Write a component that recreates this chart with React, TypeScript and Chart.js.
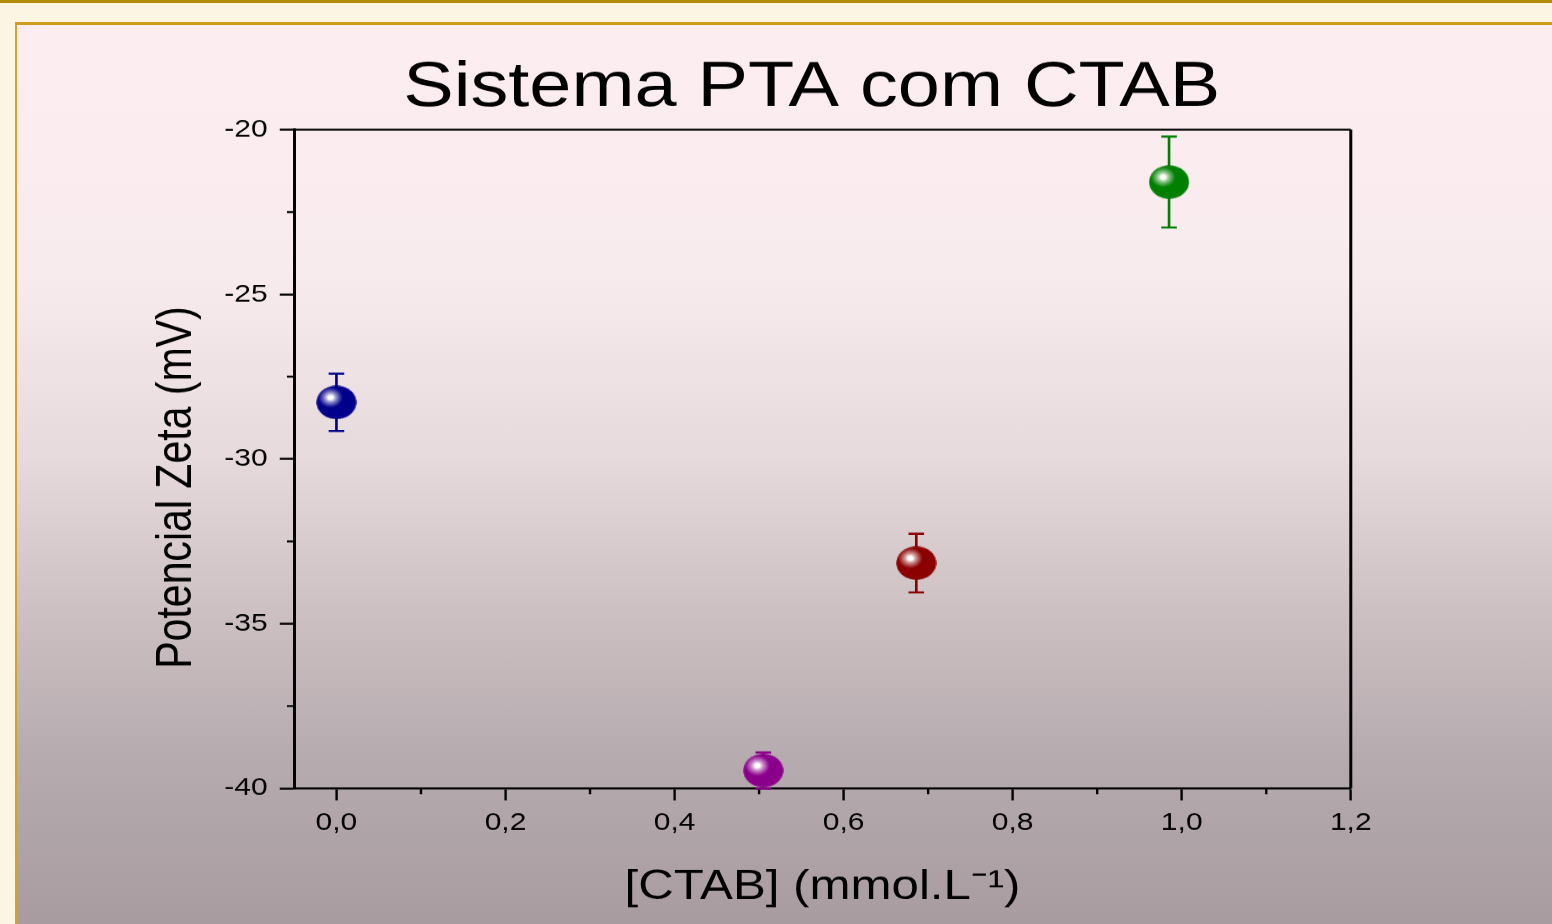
import React, { useEffect, useRef } from 'react';
import { Chart, registerables } from 'chart.js';

Chart.register(...registerables);

// ---- data ----
const concentrations = [0.0, 0.505, 0.686, 0.985];
const zetaPotential = [-28.28, -39.46, -33.16, -21.59];
const zetaError = [0.87, 0.55, 0.89, 1.38];
const pointColors = ['#00008b', '#8b008b', '#8b0000', '#008000'];
const xTickValues = [0, 0.2, 0.4, 0.6, 0.8, 1.0, 1.2];
const xMinorTickValues = [0.1, 0.3, 0.5, 0.7, 0.9, 1.1];
const yTickValues = [-40, -35, -30, -25, -20];
const yMinorTickValues = [-37.5, -32.5, -27.5, -22.5];
const titleText = 'Sistema PTA com CTAB';
const xTitleText = '[CTAB] (mmol.L⁻¹)';
const yTitleText = 'Potencial Zeta (mV)';

// ---- layout / style ----
const FONT = "'Liberation Sans', Arial, Helvetica, sans-serif";
const CSS_W = 1552;
const CSS_H = 924;
const STRETCH = 1.2;
const LOGICAL_W = Math.round(CSS_W / STRETCH);
const DPR = (CSS_W + 0.5) / LOGICAL_W;

function mixWithWhite(hex: string, t: number) {
  const n = parseInt(hex.slice(1), 16);
  const r = (n >> 16) & 255, g = (n >> 8) & 255, b = n & 255;
  const m = (v: number) => Math.round(v + (255 - v) * t);
  return `rgb(${m(r)},${m(g)},${m(b)})`;
}

function makeMarker(color: string) {
  const size = 34;
  const c = document.createElement('canvas');
  c.width = size;
  c.height = size;
  const ctx = c.getContext('2d')!;
  const r = 16.5;
  const cx = size / 2, cy = size / 2;
  ctx.beginPath();
  ctx.arc(cx, cy, r, 0, Math.PI * 2);
  ctx.fillStyle = color;
  ctx.fill();
  const hx = cx - 0.3 * r, hy = cy - 0.3 * r;
  const g = ctx.createRadialGradient(hx, hy, 0, hx, hy, 0.62 * r);
  g.addColorStop(0, '#ffffff');
  g.addColorStop(0.2, '#ffffff');
  g.addColorStop(0.4, mixWithWhite(color, 0.65));
  g.addColorStop(0.7, mixWithWhite(color, 0.3));
  g.addColorStop(1, color);
  ctx.beginPath();
  ctx.arc(cx, cy, r, 0, Math.PI * 2);
  ctx.fillStyle = g;
  ctx.fill();
  return c;
}

const decorPlugin = {
  id: 'decor',
  beforeDatasetsDraw(chart: any) {
    const { ctx, chartArea, scales } = chart;
    const xs = scales.x, ys = scales.y;
    ctx.save();
    // frame top + right
    ctx.strokeStyle = '#000';
    ctx.lineWidth = 2;
    ctx.beginPath();
    ctx.moveTo(chartArea.left, chartArea.top);
    ctx.lineTo(chartArea.right, chartArea.top);
    ctx.stroke();
    ctx.lineWidth = 2.5;
    ctx.beginPath();
    ctx.moveTo(chartArea.right, chartArea.top);
    ctx.lineTo(chartArea.right, chartArea.bottom);
    ctx.stroke();
    // minor ticks
    ctx.lineWidth = 2;
    ctx.beginPath();
    xMinorTickValues.forEach((v) => {
      const px = xs.getPixelForValue(v);
      ctx.moveTo(px, chartArea.bottom);
      ctx.lineTo(px, chartArea.bottom + 6);
    });
    yMinorTickValues.forEach((v) => {
      const py = ys.getPixelForValue(v);
      ctx.moveTo(chartArea.left - 6, py);
      ctx.lineTo(chartArea.left, py);
    });
    ctx.stroke();
    // error bars
    ctx.lineWidth = 2.2;
    concentrations.forEach((c, i) => {
      const px = xs.getPixelForValue(c);
      const top = ys.getPixelForValue(zetaPotential[i] + zetaError[i]);
      const bot = ys.getPixelForValue(zetaPotential[i] - zetaError[i]);
      ctx.strokeStyle = pointColors[i];
      ctx.beginPath();
      ctx.moveTo(px, top);
      ctx.lineTo(px, bot);
      ctx.moveTo(px - 6.5, top);
      ctx.lineTo(px + 6.5, top);
      ctx.moveTo(px - 6.5, bot);
      ctx.lineTo(px + 6.5, bot);
      ctx.stroke();
    });
    ctx.restore();
  },
  afterDraw(chart: any) {
    const { ctx, scales } = chart;
    const ys = scales.y;
    ctx.save();
    ctx.translate(148, (ys.top + ys.bottom) / 2 + 28.5);
    ctx.rotate(-Math.PI / 2);
    ctx.fillStyle = '#000';
    ctx.font = `41px ${FONT}`;
    ctx.textAlign = 'center';
    ctx.textBaseline = 'middle';
    ctx.fillText(yTitleText, 0, 0);
    ctx.restore();
  },
};

export default function App() {
  const canvasRef = useRef<HTMLCanvasElement | null>(null);

  useEffect(() => {
    document.body.style.margin = '0';
    document.body.style.overflow = 'hidden';
    const canvas = canvasRef.current!;
    const markers = pointColors.map(makeMarker);
    const chart = new Chart(canvas, {
      type: 'scatter',
      data: {
        datasets: [
          {
            data: concentrations.map((c, i) => ({ x: c, y: zetaPotential[i] })),
            pointStyle: markers as any,
            pointRadius: 16.5,
            backgroundColor: pointColors,
            borderColor: pointColors,
            showLine: false,
            clip: false as any,
          },
        ],
      },
      options: {
        animation: false,
        responsive: false,
        devicePixelRatio: DPR,
        events: [],
        layout: { padding: { left: 60, right: 1, top: 0, bottom: 0 } },
        plugins: {
          legend: { display: false },
          tooltip: { enabled: false },
          title: {
            display: true,
            text: titleText,
            color: '#000',
            font: { family: FONT, size: 63, weight: 'normal' as any },
            padding: { top: 51, bottom: 3 },
          },
        },
        scales: {
          x: {
            type: 'linear',
            position: 'bottom',
            min: -0.05,
            max: 1.2,
            afterBuildTicks: (s: any) => {
              s.ticks = xTickValues.map((v) => ({ value: v }));
            },
            afterFit: (s: any) => {
              s.height = 136;
            },
            grid: { drawOnChartArea: false, drawTicks: true, tickLength: 12, tickWidth: 2, tickColor: '#000' },
            border: { display: true, color: '#000', width: 2 },
            ticks: {
              color: '#000',
              font: { family: FONT, size: 25 },
              padding: 8,
              maxRotation: 0,
              autoSkip: false,
              callback: (v: any) => Number(v).toFixed(1).replace('.', ','),
            },
            title: {
              display: true,
              text: xTitleText,
              color: '#000',
              font: { family: FONT, size: 41 },
              padding: { top: 0, bottom: 12 },
            },
          },
          y: {
            type: 'linear',
            position: 'left',
            min: -40,
            max: -20,
            afterBuildTicks: (s: any) => {
              s.ticks = yTickValues.map((v) => ({ value: v }));
            },
            afterFit: (s: any) => {
              s.width = 185;
            },
            grid: { drawOnChartArea: false, drawTicks: true, tickLength: 12, tickWidth: 2, tickColor: '#000' },
            border: { display: true, color: '#000', width: 2.5 },
            ticks: {
              color: '#000',
              font: { family: FONT, size: 25 },
              padding: 10,
              autoSkip: false,
              callback: (v: any) => String(v),
            },
          },
          y2: {
            type: 'linear',
            position: 'right',
            display: true,
            grid: { display: false },
            border: { display: false },
            ticks: { display: false },
            afterFit: (s: any) => {
              s.width = 167;
            },
          },
        },
      },
      plugins: [decorPlugin],
    });
    return () => chart.destroy();
  }, []);

  return (
    <div style={{ position: 'relative', width: CSS_W, height: CSS_H, overflow: 'hidden', background: '#fdf5e4' }}>
      <div style={{ position: 'absolute', left: 0, top: 0, width: '100%', height: 3, background: '#b48c0c' }} />
      <div
        style={{
          position: 'absolute',
          left: 15,
          top: 22,
          right: 0,
          bottom: 0,
          borderTop: '3px solid #d09c1e',
          borderLeft: '2px solid #d4a22a',
          background:
            'linear-gradient(to bottom, #fcedf0 0%, #f8ebee 28%, #e6dadd 48%, #cbbfc2 66%, #b5aaad 82%, #a89ca0 100%)',
        }}
      />
      <canvas
        ref={canvasRef}
        width={LOGICAL_W}
        height={CSS_H}
        style={{ position: 'absolute', left: 0, top: 0, width: CSS_W + 'px', height: CSS_H + 'px' }}
      />
    </div>
  );
}
